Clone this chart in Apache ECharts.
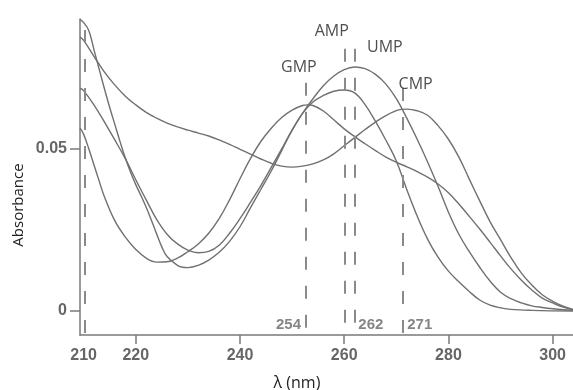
<!DOCTYPE html>
<html>
<head>
<meta charset="utf-8">
<script src="https://cdn.jsdelivr.net/npm/echarts@6/dist/echarts.min.js"></script>
<style>
html,body{margin:0;padding:0;background:#fff;}
#chart{width:573px;height:390px;}
</style>
</head>
<body>
<div id="chart"></div>
<script>
// ---- data (wavelength nm, absorbance) ----
const gmpWl  = [209.3,210,211,212,213,214,216,218,220,222,224,226,228,230,232,234,236,238,240,242,244,246,248,250,252,253,254,256,258,260,262,264,266,268,270,272,274,276,278,280,282,284,286,288,290,292,294,296,298,300,302,303.9];
const gmpAbs = [0.0565,0.0545,0.0500,0.0450,0.0400,0.0352,0.0278,0.0228,0.0190,0.0163,0.0151,0.0152,0.0163,0.0183,0.0207,0.0240,0.0285,0.0343,0.0408,0.0470,0.0523,0.0564,0.0597,0.0620,0.0634,0.0636,0.0634,0.0617,0.0590,0.0562,0.0538,0.0516,0.0495,0.0475,0.0459,0.0445,0.0430,0.0413,0.0392,0.0365,0.0330,0.0292,0.0253,0.0212,0.0170,0.0130,0.0095,0.0065,0.0040,0.0025,0.0012,0.0004];

const cmpWl  = [209.3,210,212,214,216,218,220,222,224,226,228,230,232,234,236,238,240,242,244,246,248,250,252,254,256,258,260,262,264,266,268,270,271,272,274,276,278,280,282,284,286,288,290,292,294,296,298,300,302,303.9];
const cmpAbs = [0.0845,0.0835,0.0785,0.0737,0.0697,0.0663,0.0636,0.0613,0.0595,0.0580,0.0568,0.0558,0.0549,0.0540,0.0528,0.0514,0.0499,0.0484,0.0469,0.0456,0.0447,0.0444,0.0447,0.0454,0.0466,0.0485,0.0510,0.0535,0.0560,0.0583,0.0603,0.0618,0.0622,0.0623,0.0618,0.0604,0.0572,0.0530,0.0475,0.0407,0.0340,0.0275,0.0220,0.0165,0.0117,0.0080,0.0050,0.0030,0.0015,0.0005];

const ampWl  = [209.3,210,211,212,213,214,215,216,217,218,219,220,221,222,223,224,225,226,228,229,230,232,234,236,238,240,242,244,246,248,250,252,254,256,258,260,262,264,266,268,270,272,274,276,278,280,282,284,286,288,290,292,296,303.9];
const ampAbs = [0.0900,0.0890,0.0865,0.0805,0.0745,0.0685,0.0628,0.0575,0.0522,0.0472,0.0428,0.0390,0.0356,0.0320,0.0280,0.0238,0.0198,0.0168,0.0141,0.0135,0.0134,0.0141,0.0157,0.0181,0.0215,0.0260,0.0318,0.0375,0.0432,0.0495,0.0558,0.0610,0.0645,0.0665,0.0678,0.0682,0.0673,0.0637,0.0585,0.0527,0.0463,0.0375,0.0293,0.0222,0.0166,0.0123,0.0090,0.0060,0.0034,0.0018,0.0010,0.0005,0.0002,0.0000];

const umpWl  = [209.3,210,212,214,216,218,220,222,224,226,228,230,232,234,236,238,240,242,244,246,248,250,252,254,256,258,260,262,264,266,268,270,272,274,276,278,280,282,284,286,288,290,292,294,296,298,300,302,303.9];
const umpAbs = [0.0688,0.0680,0.0635,0.0583,0.0527,0.0470,0.0405,0.0343,0.0283,0.0237,0.0207,0.0188,0.0180,0.0184,0.0203,0.0240,0.0285,0.0335,0.0387,0.0443,0.0500,0.0558,0.0610,0.0655,0.0695,0.0725,0.0745,0.0753,0.0748,0.0730,0.0700,0.0655,0.0595,0.0530,0.0460,0.0385,0.0305,0.0237,0.0183,0.0135,0.0092,0.0058,0.0038,0.0025,0.0016,0.0011,0.0007,0.0004,0.0002];

// reference (dashed) wavelength markers
const refWl     = [210.3, 252.7, 260.1, 262.1, 271.2];
const refTop    = [0.0867, 0.0704, 0.0809, 0.0809, 0.0688];
const refBottom = [-0.0074, -0.0059, -0.0049, -0.0043, -0.0074];

// curve name labels
const nameText = ['GMP', 'AMP', 'UMP', 'CMP'];
const nameWl   = [251.3, 257.6, 267.8, 273.7];
const nameAbs  = [0.0753, 0.0864, 0.0812, 0.0698];

// wavelength value labels near the axis
const wlText = ['254', '262', '271'];
const wlPos  = [249.3, 265.1, 274.5];
const wlAbs  = [-0.0043, -0.0043, -0.0043];

// axis ticks / labels
const xLabels = [210, 220, 240, 260, 280, 300];
const xTicks  = [220, 240, 260, 280, 300];
const yLabels = [0, 0.05];

const curveColor = '#707070';
const zip = (a, b) => a.map((v, i) => [v, b[i]]);

function curve(name, wl, ab) {
  return {
    name: name, type: 'line', data: zip(wl, ab), smooth: 0.4, symbol: 'none',
    lineStyle: { color: curveColor, width: 1.4 }, silent: true, z: 3
  };
}

const chart = echarts.init(document.getElementById('chart'));
chart.setOption({
  animation: false,
  backgroundColor: '#fff',
  grid: { left: 80, right: 0, top: 19, bottom: 55, containLabel: false, outerBoundsMode: 'none' },
  xAxis: {
    type: 'value', min: 209.3, max: 303.9,
    axisLine: { onZero: false, lineStyle: { color: '#7a7a7a', width: 1.5 } },
    axisTick: { show: true, length: 9, customValues: xTicks, lineStyle: { color: '#7a7a7a', width: 1.5 } },
    axisLabel: { customValues: xLabels, margin: 13, color: '#666', fontSize: 16, fontWeight: 'bold', fontFamily: 'Liberation Sans, Arial, sans-serif' },
    splitLine: { show: false }
  },
  yAxis: {
    type: 'value', min: -0.0074, max: 0.0901,
    axisLine: { show: true, onZero: false, lineStyle: { color: '#7a7a7a', width: 1.5 } },
    axisTick: { show: true, length: 10, customValues: yLabels, lineStyle: { color: '#7a7a7a', width: 1.5 } },
    axisLabel: { customValues: yLabels, margin: 13, color: '#666', fontSize: 16, fontWeight: 'bold', fontFamily: 'Liberation Sans, Arial, sans-serif',
      formatter: v => (v === 0 ? '0' : String(v)) },
    splitLine: { show: false }
  },
  graphic: [
    { type: 'text', x: 19, y: 205, rotation: Math.PI / 2,
      style: { text: 'Absorbance', fill: '#222', font: '15px "Open Sans", sans-serif', align: 'center', verticalAlign: 'middle' } },
    { type: 'text', x: 297, y: 383,
      style: { text: 'λ (nm)', fill: '#222', font: '16px "Open Sans", sans-serif', align: 'center', verticalAlign: 'middle' } }
  ],
  series: [
    curve('GMP', gmpWl, gmpAbs),
    curve('CMP', cmpWl, cmpAbs),
    curve('AMP', ampWl, ampAbs),
    curve('UMP', umpWl, umpAbs),
    {
      name: 'refs', type: 'line', data: [], silent: true, z: 2,
      markLine: {
        silent: true, symbol: ['none', 'none'], label: { show: false },
        lineStyle: { color: '#8a8a8a', width: 2, type: [13, 16] },
        data: refWl.map((w, i) => [{ coord: [w, refTop[i]] }, { coord: [w, refBottom[i]] }])
      }
    },
    {
      name: 'names', type: 'scatter', silent: true, symbolSize: 1, z: 5,
      itemStyle: { color: 'rgba(0,0,0,0)' },
      data: nameText.map((t, i) => ({ value: [nameWl[i], nameAbs[i]], name: t })),
      label: { show: true, position: 'inside', formatter: p => p.name, color: '#222', fontSize: 16, fontFamily: '"Open Sans", sans-serif' }
    },
    {
      name: 'wl', type: 'scatter', silent: true, symbolSize: 1, z: 5,
      itemStyle: { color: 'rgba(0,0,0,0)' },
      data: wlText.map((t, i) => ({ value: [wlPos[i], wlAbs[i]], name: t })),
      label: { show: true, position: 'inside', formatter: p => p.name, color: '#666', fontSize: 15, fontWeight: 'bold', fontFamily: 'Liberation Sans, Arial, sans-serif' }
    }
  ]
});
</script>
</body>
</html>
